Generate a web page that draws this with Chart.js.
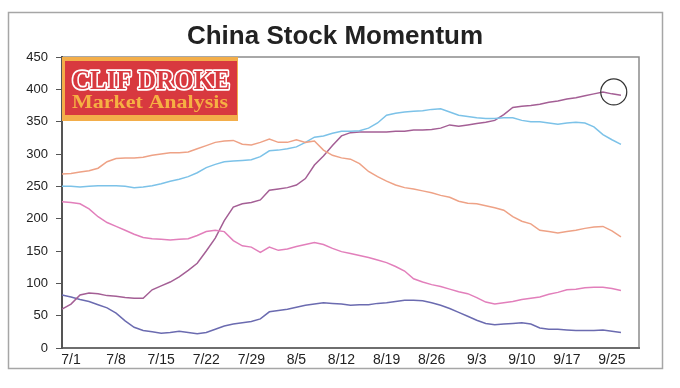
<!DOCTYPE html>
<html>
<head>
<meta charset="utf-8">
<title>China Stock Momentum</title>
<script src="https://cdn.jsdelivr.net/npm/chart.js@4.4.0/dist/chart.umd.min.js"></script>
<style>
  html, body { margin: 0; padding: 0; background: #fff; }
  #wrap { position: relative; width: 680px; height: 388px; }
</style>
</head>
<body>
<div id="wrap"><canvas id="momentumChart"></canvas></div>
<script>
// Weekly date ticks (one every 5 trading days) and the number of day slots on the axis
const weekLabels = ['7/1', '7/8', '7/15', '7/22', '7/29', '8/5', '8/12', '8/19', '8/26', '9/3', '9/10', '9/17', '9/25'];
const slotCount = 65;

// Daily readings
const orangeLine = [269, 270, 272, 274, 278, 288, 293, 294, 294, 295,
    298, 300, 302, 302, 303, 308, 313, 318, 320, 321,
    315, 314, 318, 323, 318, 318, 322, 318, 320, 306,
    298, 294, 292, 285, 273, 265, 258, 252, 248, 246,
    243, 240, 236, 233, 227, 224, 223, 220, 217, 213,
    203, 196, 192, 182, 180, 178, 180, 182, 185, 187,
    188, 181, 172];
const blueLine = [250, 250, 249, 250, 251, 251, 251, 250, 248, 249,
    251, 254, 258, 261, 265, 271, 279, 284, 288, 289,
    290, 291, 296, 305, 306, 308, 311, 318, 326, 328,
    332, 335, 335, 336, 340, 348, 360, 363, 365, 366,
    367, 369, 370, 365, 360, 358, 356, 355, 355, 356,
    356, 352, 350, 350, 348, 346, 348, 349, 348, 342,
    330, 322, 315];
const pinkLine = [226, 225, 223, 215, 203, 194, 188, 182, 176, 171,
    169, 168, 167, 168, 169, 174, 180, 182, 180, 166,
    158, 156, 148, 156, 151, 153, 157, 160, 163, 160,
    154, 149, 146, 143, 140, 136, 132, 126, 119, 107,
    102, 98, 95, 91, 87, 84, 78, 71, 68, 70,
    72, 75, 77, 79, 83, 86, 90, 91, 93, 94,
    94, 92, 89];
const purpleLine = [60, 68, 82, 85, 84, 81, 80, 78, 77, 77,
    90, 96, 102, 110, 120, 131, 150, 170, 197, 218,
    223, 225, 229, 244, 246, 248, 252, 262, 283, 297,
    313, 328, 333, 334, 334, 334, 334, 335, 335, 337,
    337, 338, 340, 345, 343, 345, 347, 349, 352, 361,
    372, 374, 375, 377, 380, 382, 385, 387, 390, 393,
    396, 393, 391];
const navyLine = [82, 79, 75, 72, 67, 62, 54, 42, 32, 27,
    25, 23, 24, 26, 24, 22, 24, 29, 34, 37,
    39, 41, 45, 56, 58, 60, 63, 66, 68, 70,
    69, 68, 66, 67, 67, 69, 70, 72, 74, 74,
    73, 70, 66, 61, 55, 49, 43, 38, 36, 37,
    38, 39, 37, 31, 29, 29, 28, 27, 27, 27,
    28, 26, 24];

const chartTitle = 'China Stock Momentum';

// the hand-drawn ring around the latest high
const ringAt = { index: 61.2, value: 396 };

const slotLabels = Array.from({ length: slotCount }, (_, i) =>
    (i % 5 === 1 && weekLabels[(i - 1) / 5]) ? weekLabels[(i - 1) / 5] : '');

function lineSet(data, color) {
    return {
        data: data,
        borderColor: color,
        borderWidth: 1.5,
        pointRadius: 0,
        tension: 0,
        fill: false
    };
}

function drawLogo(ctx, x, y) {
    ctx.save();
    ctx.fillStyle = '#f3ae4a';
    ctx.fillRect(x, y, 176, 64);
    ctx.fillStyle = '#d8393f';
    ctx.fillRect(x + 3, y + 4, 172, 54);

    ctx.textAlign = 'center';
    ctx.textBaseline = 'alphabetic';

    // CLIF DROKE - outlined serif letters
    ctx.font = 'bold 28px "Liberation Serif"';
    let sx = 158 / ctx.measureText('CLIF DROKE').width;
    ctx.save();
    ctx.translate(x + 89, y + 32);
    ctx.scale(sx, 1);
    ctx.lineJoin = 'round';
    ctx.strokeStyle = '#ffffff';
    ctx.lineWidth = 3.5;
    ctx.strokeText('CLIF DROKE', 0, 0);
    ctx.fillStyle = '#d8393f';
    ctx.fillText('CLIF DROKE', 0, 0);
    ctx.restore();

    // Market Analysis
    ctx.font = 'bold 18px "Liberation Serif"';
    sx = 156 / ctx.measureText('Market Analysis').width;
    ctx.save();
    ctx.translate(x + 88, y + 51);
    ctx.scale(sx, 1);
    ctx.fillStyle = '#f6b043';
    ctx.fillText('Market Analysis', 0, 0);
    ctx.restore();
    ctx.restore();
}

const framePlugin = {
    id: 'frame',
    beforeDraw(chart) {
        const ctx = chart.ctx;
        const a = chart.chartArea;
        ctx.save();
        ctx.fillStyle = '#ffffff';
        ctx.fillRect(0, 0, chart.width, chart.height);
        // outer border of the pasted chart
        ctx.strokeStyle = '#a6a6a6';
        ctx.lineWidth = 1.5;
        ctx.strokeRect(8.5, 12.5, 654, 356);
        // plot area top and right edge
        ctx.strokeStyle = '#8c8c8c';
        ctx.lineWidth = 1.5;
        ctx.beginPath();
        ctx.moveTo(a.left, a.top);
        ctx.lineTo(a.right, a.top);
        ctx.lineTo(a.right, a.bottom);
        ctx.stroke();
        // title
        ctx.fillStyle = '#222';
        ctx.font = 'bold 26px "Liberation Sans", Arial, sans-serif';
        ctx.textAlign = 'center';
        ctx.textBaseline = 'middle';
        ctx.fillText(chartTitle, 335, 37);
        ctx.restore();
    },
    afterDatasetsDraw(chart) {
        const ctx = chart.ctx;
        const a = chart.chartArea;
        drawLogo(ctx, a.left, a.top);
        const cx = chart.scales.x.getPixelForValue(ringAt.index);
        const cy = chart.scales.y.getPixelForValue(ringAt.value);
        ctx.save();
        ctx.strokeStyle = '#333';
        ctx.lineWidth = 1.2;
        ctx.beginPath();
        ctx.arc(cx, cy, 13, 0, Math.PI * 2);
        ctx.stroke();
        ctx.restore();
    }
};

new Chart(document.getElementById('momentumChart'), {
    type: 'line',
    data: {
        labels: slotLabels,
        datasets: [
            lineSet(orangeLine, '#eea286'),
            lineSet(blueLine, '#7cc2e8'),
            lineSet(pinkLine, '#e27fbb'),
            lineSet(purpleLine, '#a45f95'),
            lineSet(navyLine, '#6b6bb0')
        ]
    },
    options: {
        responsive: true,
        maintainAspectRatio: false,
        animation: false,
        layout: { padding: { left: 14, right: 41, top: 57, bottom: 0 } },
        plugins: {
            legend: { display: false },
            tooltip: { enabled: false },
            title: { display: false }
        },
        scales: {
            x: {
                type: 'category',
                grid: { display: false, drawTicks: false },
                border: { display: true, color: '#6e6e6e', width: 2 },
                ticks: {
                    autoSkip: false,
                    maxRotation: 0,
                    padding: 4,
                    color: '#222',
                    font: { family: '"Liberation Sans", Arial, sans-serif', size: 14 }
                },
                afterFit(scale) { scale.height = 40; }
            },
            y: {
                min: 0,
                max: 450,
                grid: { drawOnChartArea: false, drawTicks: true, tickLength: 6, color: '#555' },
                border: { display: true, color: '#555', width: 2 },
                ticks: {
                    stepSize: 50,
                    padding: 8,
                    color: '#222',
                    font: { family: '"Liberation Sans", Arial, sans-serif', size: 13 }
                },
                afterFit(scale) { scale.width = 48; }
            }
        }
    },
    plugins: [framePlugin]
});
</script>
</body>
</html>
